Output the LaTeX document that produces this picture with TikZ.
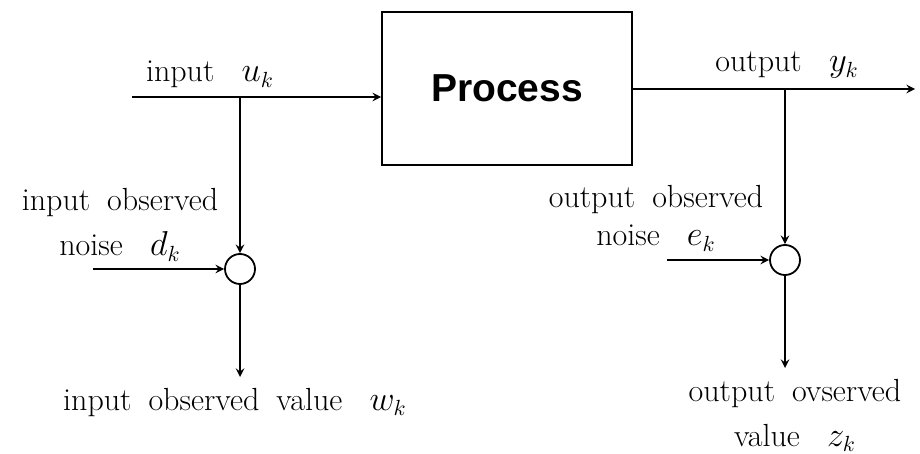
\documentclass[tikz,border=0pt]{standalone}
\usepackage{fontspec}
\newfontfamily\procfont{Liberation Sans}
\usepackage{tikz}
\tikzset{every node/.append style={font=\fontsize{16}{22.5}\selectfont}}
\tikzset{sumnode/.style={draw, circle, minimum size=15pt, inner sep=0pt}}
\tikzset{lbl/.style={anchor=base, align=center, inner sep=0pt, execute at begin node={\spaceskip=8.5pt plus 2pt\relax}}}
\newcommand{\vgap}{\hspace{0.85em}}

\begin{document}
\begin{tikzpicture}[x=0.5pt, y=-0.5pt, >=stealth, line width=0.9pt]
    \useasboundingbox (0,0) rectangle (920,454);
    % process block
    \node[draw, minimum width=125pt, minimum height=76.5pt, font=\procfont\bfseries\fontsize{19.5}{22}\selectfont] (proc) at (507,88.5) {Process};
    % input side
    \coordinate (uin) at (132,97);
    \coordinate (ujn) at (240,97);
    \node[sumnode] (sumd) at (240,269) {};
    \coordinate (din) at (93,269);
    \coordinate (wout) at (240,377);
    \draw[->] (uin) -- (uin -| proc.west);
    \draw[->] (ujn) -- (sumd.north);
    \draw[->] (din) -- (sumd.west);
    \draw[->] (sumd.south) -- (wout);
    \node[lbl] (ulbl) at (210,82) {input\vgap$u_k$};
    \node[lbl] (dlbl) at (120,256) {input observed\\noise\vgap$d_k$};
    \node[lbl] (wlbl) at (235,410) {input observed value\vgap$w_k$};
    % output side
    \coordinate (yjn) at (785,89);
    \coordinate (yout) at (915,89);
    \node[sumnode] (sume) at (785,260) {};
    \coordinate (ein) at (667,260);
    \coordinate (zout) at (785,368);
    \draw[->] (proc.east |- yout) -- (yout);
    \draw[->] (yjn) -- (sume.north);
    \draw[->] (ein) -- (sume.west);
    \draw[->] (sume.south) -- (zout);
    \node[lbl] (ylbl) at (787,72) {output\vgap$y_k$};
    \node[lbl] (elbl) at (656,246) {output observed\\[-3.5pt]noise\vgap$e_k$};
    \node[lbl] (zlbl) at (795,446) {output ovserved\\value\vgap$z_k$};
\end{tikzpicture}
\end{document}
